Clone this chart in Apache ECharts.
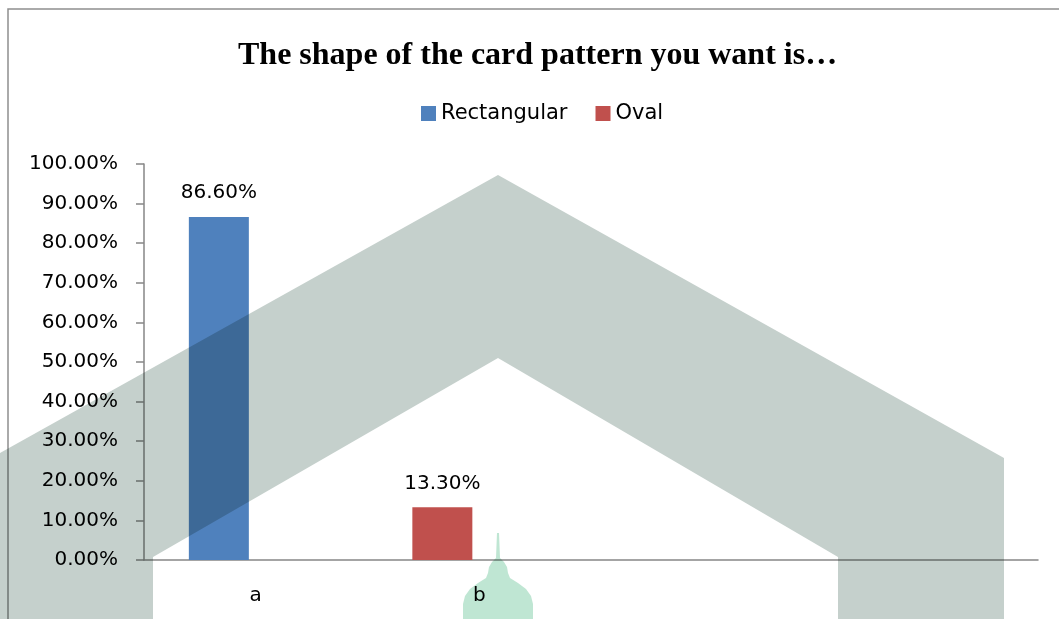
<!DOCTYPE html>
<html>
<head>
<meta charset="utf-8">
<script src="https://cdn.jsdelivr.net/npm/echarts@6/dist/echarts.min.js"></script>
<style>html,body{margin:0;padding:0;background:#fff}#c{width:1059px;height:619px}</style>
</head>
<body>
<div id="c"></div>
<script>
const titleText = 'The shape of the card pattern you want is\u2026';
const categories = ['a', 'b', '', ''];
const rectangular = [86.6, null, null, null];
const oval = [null, 13.3, null, null];
const yTicks = [0, 10, 20, 30, 40, 50, 60, 70, 80, 90, 100];

const FONT = 'DejaVu Sans';
const chart = echarts.init(document.getElementById('c'), null, {renderer: 'canvas'});
const pct = v => Number(v).toFixed(2) + '%';
const labelStyle = {show: true, position: 'top', distance: 14, formatter: p => pct(p.value), fontFamily: FONT, fontSize: 20, color: '#000'};

chart.setOption({
  animation: false,
  backgroundColor: '#ffffff',
  title: {
    text: titleText, left: 238, top: 40, padding: 0,
    textStyle: {fontFamily: 'Liberation Serif', fontWeight: 'bold', fontSize: 32, color: '#000'}
  },
  legend: {
    data: ['Rectangular', 'Oval'], left: 421, top: 103, padding: 0,
    itemWidth: 15, itemHeight: 15, itemGap: 28, icon: 'rect',
    textStyle: {fontFamily: FONT, fontSize: 21, color: '#000'}
  },
  grid: {left: 144, right: 21, top: 164, bottom: 59},
  xAxis: {
    type: 'category', data: categories,
    axisLine: {lineStyle: {color: '#868686', width: 1.5}},
    axisTick: {show: false},
    axisLabel: {fontFamily: FONT, fontSize: 20, color: '#000', margin: 26}
  },
  yAxis: {
    type: 'value', min: yTicks[0], max: yTicks[yTicks.length - 1], interval: 10,
    axisLine: {show: true, lineStyle: {color: '#868686', width: 1.5}},
    axisTick: {show: true, length: 8, lineStyle: {color: '#868686', width: 1.5}},
    splitLine: {show: false},
    axisLabel: {fontFamily: FONT, fontSize: 20, color: '#000', margin: 26, formatter: pct}
  },
  series: [
    {name: 'Rectangular', type: 'bar', stack: 'g', data: rectangular, barWidth: 60, barGap: '23%',
     itemStyle: {color: '#4f81bd'}, label: labelStyle},
    {name: 'Oval', type: 'bar', stack: 'g', data: oval, barWidth: 60, barGap: '23%',
     itemStyle: {color: '#c0504d'}, label: labelStyle},
    {name: 'spacer', type: 'bar', data: [null, null, null, null], barWidth: 60, barGap: '23%', silent: true}
  ],
  graphic: [
    {type: 'rect', z: 90, silent: true, shape: {x: 8, y: 9, width: 1200, height: 800},
     style: {fill: 'transparent', stroke: '#8e8e8e', lineWidth: 1.5}},
    {type: 'polygon', z: 100, silent: true,
     shape: {points: [[0,453],[498,175],[1004,458],[1004,619],[838,619],[838,557],[498,358],[153,557],[153,619],[0,619]]},
     style: {fill: '#c5d0cc', blend: 'multiply'}},
    {type: 'polygon', z: 100, silent: true,
     shape: {points: [[497,533],[499,533],[500,558],[504,562],[507,567],[508,573],[510,578],[518,583],[526,589],[531,596],[533,604],[533,619],[463,619],[463,604],[465,596],[470,589],[478,583],[486,578],[488,573],[489,567],[492,562],[496,558]]},
     style: {fill: '#bfe6d3', blend: 'multiply'}}
  ]
});
</script>
</body>
</html>
